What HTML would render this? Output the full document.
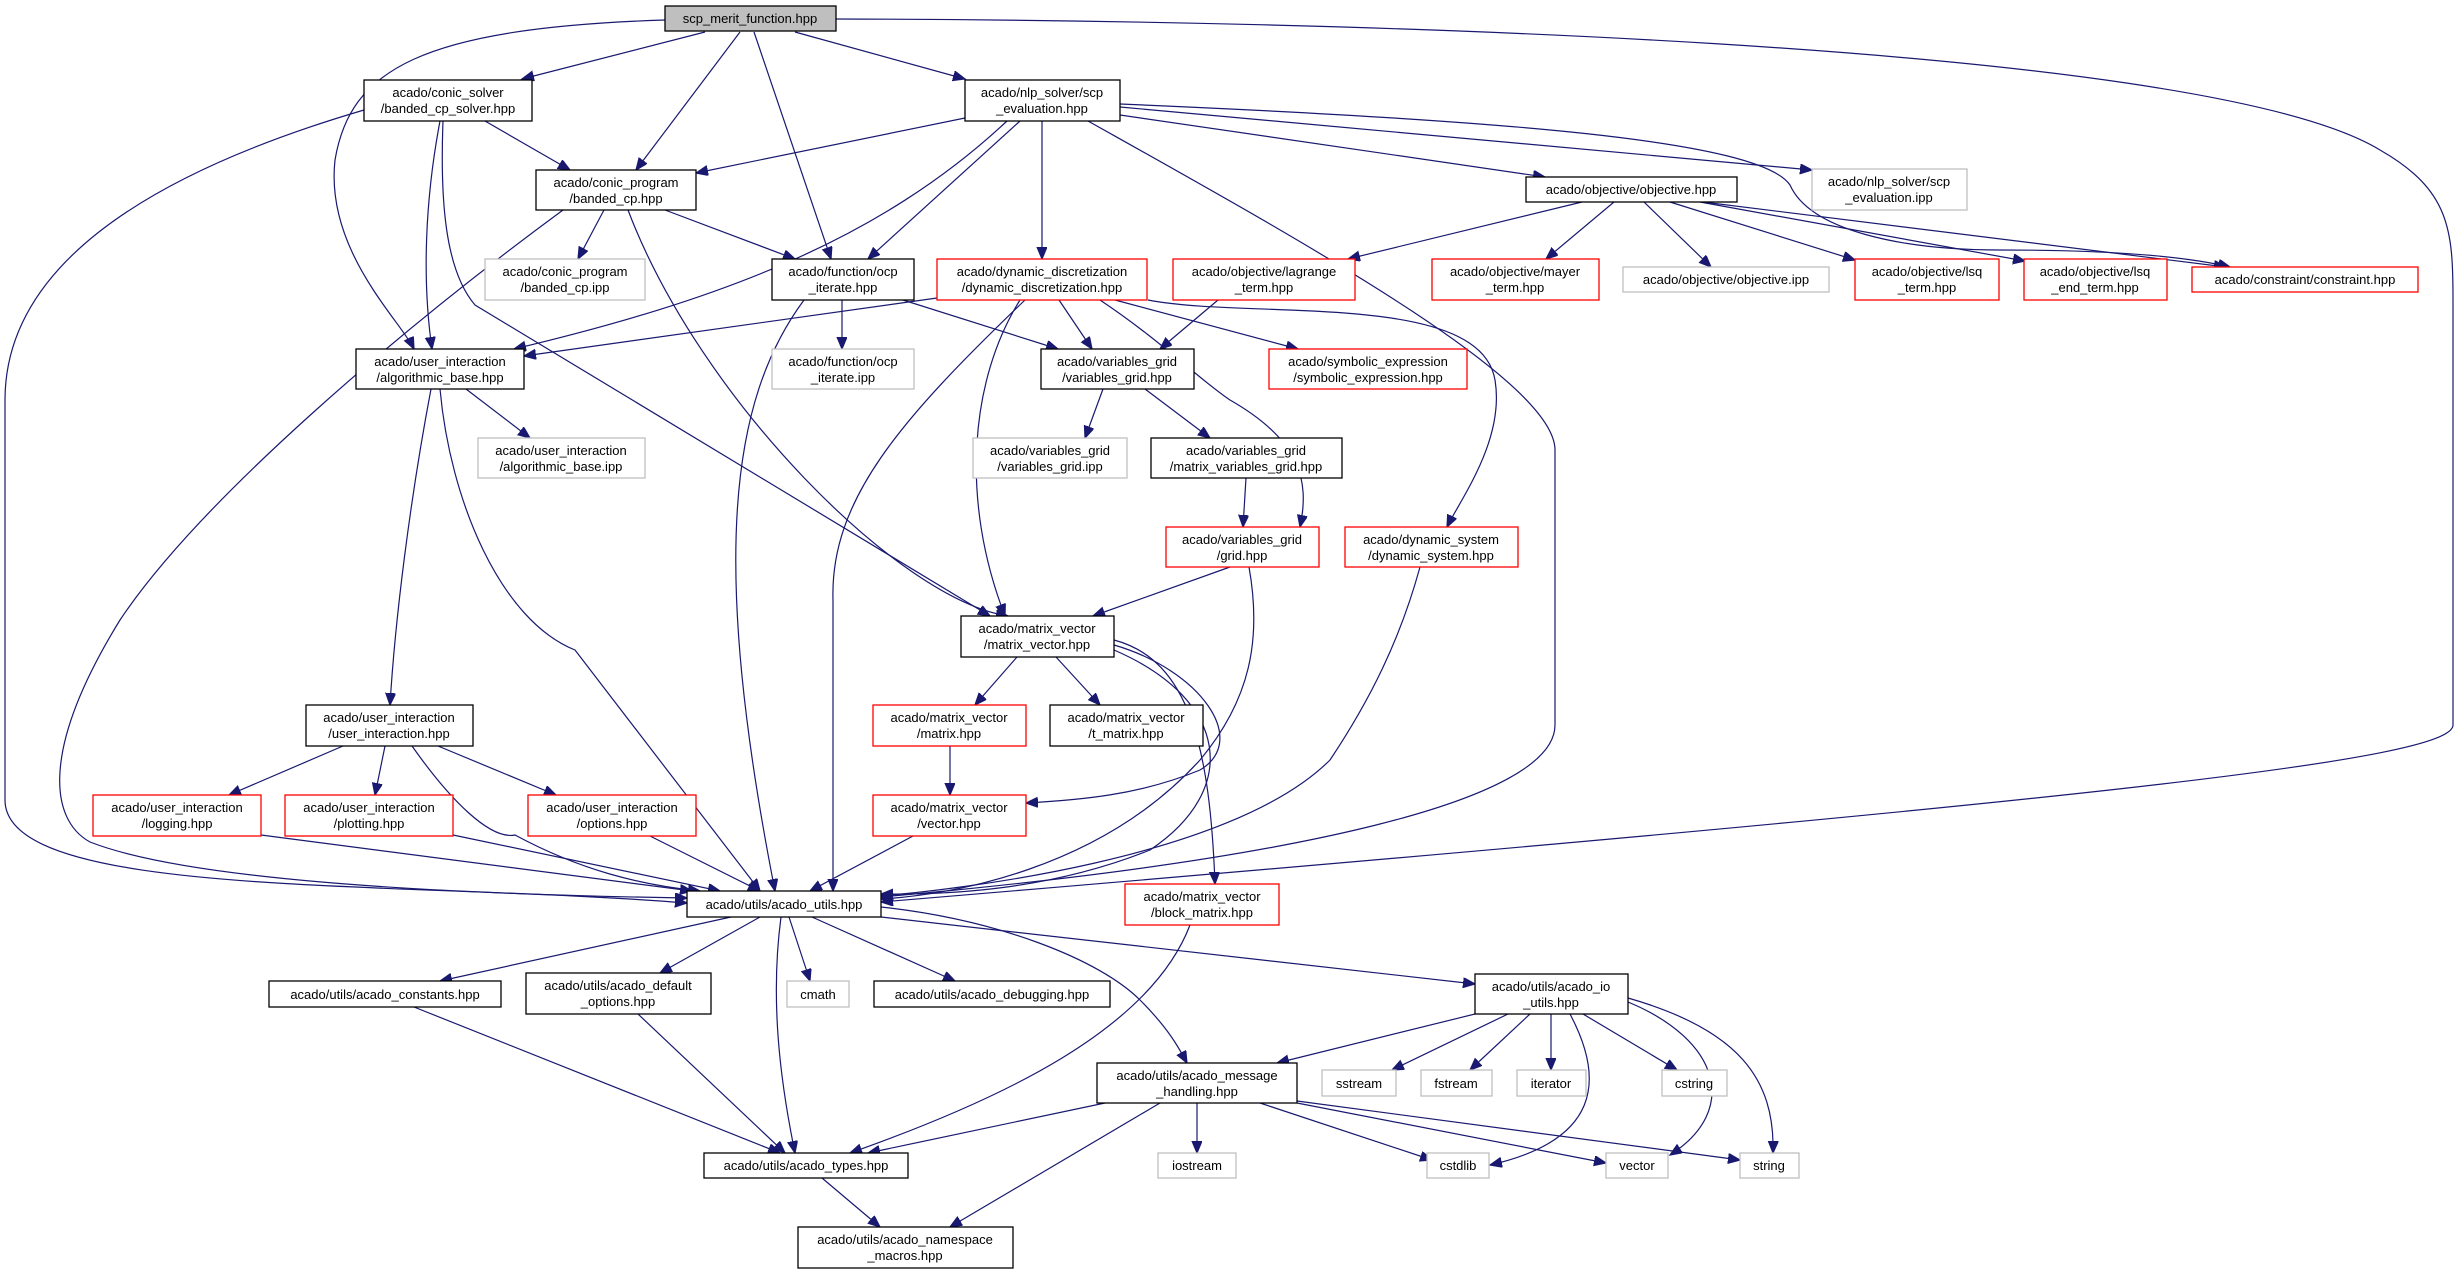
<!DOCTYPE html>
<html><head><meta charset="utf-8"><style>
html,body{margin:0;padding:0;background:#fff;}
svg{display:block;}
text{font-family:"Liberation Sans",sans-serif;font-size:13px;fill:#000;text-anchor:middle;}
.n{fill:#fff;stroke:#000;stroke-width:1.3;}
.r{fill:#fff;stroke:#ff0000;stroke-width:1.3;}
.g{fill:#fff;stroke:#bfbfbf;stroke-width:1.3;}
path{fill:none;stroke:#191970;stroke-width:1.2;}
</style></head><body>
<svg width="2457" height="1273" viewBox="0 0 2457 1273" xmlns="http://www.w3.org/2000/svg">
<defs><marker id="a" markerUnits="userSpaceOnUse" markerWidth="14" markerHeight="12" refX="12" refY="5" orient="auto"><path d="M0,0 L12,5 L0,10 Z" style="fill:#191970;stroke:#191970"/></marker></defs>
<g marker-end="url(#a)">
<path d="M705,32 L522,79"/>
<path d="M740,32 L636,170"/>
<path d="M754,32 L831,259"/>
<path d="M795,32 L965,79"/>
<path d="M665,20 C420,28 350,70 335,160 C325,250 400,320 414,349"/>
<path d="M836,19 C1300,20 2200,40 2380,150 C2450,190 2453,230 2453,300 L2453,725 C2453,760 2100,800 881,902"/>
<path d="M364,110 C160,170 5,260 5,400 L5,800 C5,900 400,880 687,903"/>
<path d="M440,121 C425,200 422,280 432,349"/>
<path d="M485,121 L570,170"/>
<path d="M443,121 C440,200 445,270 475,305 L990,616"/>
<path d="M965,118 L696,173"/>
<path d="M1007,121 C880,240 720,300 514,349"/>
<path d="M1020,121 L868,259"/>
<path d="M1042,121 L1042,259"/>
<path d="M1120,115 L1545,177"/>
<path d="M1120,107 L1812,170"/>
<path d="M1120,104 C1500,120 1760,140 1790,185 C1810,230 1900,250 2000,250 C2100,250 2180,255 2230,267"/>
<path d="M1088,121 C1300,240 1555,380 1555,450 L1555,725 C1555,800 1300,860 881,897"/>
<path d="M604,210 L578,259"/>
<path d="M665,210 L795,259"/>
<path d="M628,210 C700,400 900,600 1008,616"/>
<path d="M563,210 C400,330 200,500 120,620 C40,750 50,820 90,842 C200,885 500,895 687,898"/>
<path d="M842,300 L842,349"/>
<path d="M903,300 L1058,349"/>
<path d="M804,300 C730,400 710,560 775,891"/>
<path d="M937,298 L524,356"/>
<path d="M1059,300 L1092,349"/>
<path d="M1115,300 L1298,349"/>
<path d="M1100,300 C1160,340 1200,380 1230,400 C1300,440 1310,480 1300,527"/>
<path d="M1148,300 C1250,320 1480,290 1495,380 C1505,440 1460,500 1447,527"/>
<path d="M1020,300 C970,380 960,500 1005,616"/>
<path d="M1025,300 C900,420 830,500 833,600 L833,891"/>
<path d="M1218,300 L1160,349"/>
<path d="M1582,202 L1348,259"/>
<path d="M1614,202 L1546,259"/>
<path d="M1644,202 L1711,267"/>
<path d="M1670,202 L1855,260"/>
<path d="M1700,202 L2025,261"/>
<path d="M1703,202 L2226,267"/>
<path d="M1103,389 L1085,438"/>
<path d="M1145,389 L1210,438"/>
<path d="M1246,478 L1243,527"/>
<path d="M1230,567 L1093,616"/>
<path d="M1249,567 C1262,640 1250,700 1200,760 C1100,870 950,895 881,899"/>
<path d="M1420,567 C1400,640 1370,700 1330,760 C1230,860 950,890 881,896"/>
<path d="M466,389 L530,438"/>
<path d="M431,389 C410,500 395,620 390,705"/>
<path d="M440,389 C450,500 500,620 575,650 L760,891"/>
<path d="M1017,657 L975,705"/>
<path d="M1056,657 L1100,705"/>
<path d="M1114,645 C1200,670 1250,740 1200,770 C1140,795 1080,800 1026,803"/>
<path d="M1114,640 C1190,660 1210,750 1215,884"/>
<path d="M1114,650 C1230,700 1240,790 1150,850 C1050,890 950,895 881,894"/>
<path d="M950,746 L950,795"/>
<path d="M913,836 L810,891"/>
<path d="M1190,925 C1150,1030 1000,1100 850,1153"/>
<path d="M343,746 L229,795"/>
<path d="M385,746 L375,795"/>
<path d="M438,746 L556,795"/>
<path d="M412,746 C450,800 490,840 515,835 C580,870 640,885 700,891"/>
<path d="M261,835 L692,891"/>
<path d="M453,835 L720,891"/>
<path d="M650,836 L760,891"/>
<path d="M731,917 L440,981"/>
<path d="M760,917 L660,973"/>
<path d="M789,917 L810,981"/>
<path d="M812,917 L955,981"/>
<path d="M781,917 C770,1000 780,1080 795,1153"/>
<path d="M881,917 L1475,984"/>
<path d="M881,907 C1000,920 1100,960 1140,1000 C1170,1030 1180,1050 1187,1063"/>
<path d="M414,1007 L780,1153"/>
<path d="M638,1014 L785,1153"/>
<path d="M822,1178 L880,1227"/>
<path d="M1105,1103 L868,1153"/>
<path d="M1160,1103 L950,1227"/>
<path d="M1197,1103 L1197,1153"/>
<path d="M1260,1103 L1432,1160"/>
<path d="M1297,1103 L1606,1163"/>
<path d="M1297,1101 L1740,1160"/>
<path d="M1475,1014 L1277,1063"/>
<path d="M1508,1014 L1392,1070"/>
<path d="M1530,1014 L1470,1070"/>
<path d="M1551,1014 L1551,1070"/>
<path d="M1583,1014 L1677,1070"/>
<path d="M1570,1014 C1605,1080 1600,1140 1490,1165"/>
<path d="M1628,1002 C1720,1040 1740,1110 1670,1155"/>
<path d="M1628,998 C1740,1030 1775,1080 1773,1153"/>
</g>
<rect x="665" y="6" width="171" height="25" fill="#bfbfbf" stroke="#000" stroke-width="1.3"/><text x="750" y="23">scp_merit_function.hpp</text>
<rect class="n" x="364" y="80" width="168" height="41"/><text x="448" y="97">acado/conic_solver</text><text x="448" y="113">/banded_cp_solver.hpp</text>
<rect class="n" x="965" y="80" width="155" height="41"/><text x="1042" y="97">acado/nlp_solver/scp</text><text x="1042" y="113">_evaluation.hpp</text>
<rect class="n" x="536" y="170" width="160" height="40"/><text x="616" y="187">acado/conic_program</text><text x="616" y="203">/banded_cp.hpp</text>
<rect class="n" x="1526" y="177" width="211" height="25"/><text x="1631" y="194">acado/objective/objective.hpp</text>
<rect class="g" x="1812" y="169" width="155" height="41"/><text x="1889" y="186">acado/nlp_solver/scp</text><text x="1889" y="202">_evaluation.ipp</text>
<rect class="g" x="485" y="259" width="160" height="41"/><text x="565" y="276">acado/conic_program</text><text x="565" y="292">/banded_cp.ipp</text>
<rect class="n" x="772" y="259" width="142" height="41"/><text x="843" y="276">acado/function/ocp</text><text x="843" y="292">_iterate.hpp</text>
<rect class="r" x="937" y="259" width="210" height="41"/><text x="1042" y="276">acado/dynamic_discretization</text><text x="1042" y="292">/dynamic_discretization.hpp</text>
<rect class="r" x="1173" y="259" width="182" height="41"/><text x="1264" y="276">acado/objective/lagrange</text><text x="1264" y="292">_term.hpp</text>
<rect class="r" x="1432" y="259" width="167" height="41"/><text x="1515" y="276">acado/objective/mayer</text><text x="1515" y="292">_term.hpp</text>
<rect class="g" x="1623" y="267" width="206" height="25"/><text x="1726" y="284">acado/objective/objective.ipp</text>
<rect class="r" x="1855" y="259" width="144" height="41"/><text x="1927" y="276">acado/objective/lsq</text><text x="1927" y="292">_term.hpp</text>
<rect class="r" x="2024" y="259" width="143" height="41"/><text x="2095" y="276">acado/objective/lsq</text><text x="2095" y="292">_end_term.hpp</text>
<rect class="r" x="2192" y="267" width="226" height="25"/><text x="2305" y="284">acado/constraint/constraint.hpp</text>
<rect class="n" x="356" y="349" width="168" height="40"/><text x="440" y="366">acado/user_interaction</text><text x="440" y="382">/algorithmic_base.hpp</text>
<rect class="g" x="772" y="349" width="142" height="40"/><text x="843" y="366">acado/function/ocp</text><text x="843" y="382">_iterate.ipp</text>
<rect class="n" x="1041" y="349" width="153" height="40"/><text x="1117" y="366">acado/variables_grid</text><text x="1117" y="382">/variables_grid.hpp</text>
<rect class="r" x="1269" y="349" width="198" height="40"/><text x="1368" y="366">acado/symbolic_expression</text><text x="1368" y="382">/symbolic_expression.hpp</text>
<rect class="g" x="478" y="438" width="167" height="40"/><text x="561" y="455">acado/user_interaction</text><text x="561" y="471">/algorithmic_base.ipp</text>
<rect class="g" x="973" y="438" width="154" height="40"/><text x="1050" y="455">acado/variables_grid</text><text x="1050" y="471">/variables_grid.ipp</text>
<rect class="n" x="1151" y="438" width="191" height="40"/><text x="1246" y="455">acado/variables_grid</text><text x="1246" y="471">/matrix_variables_grid.hpp</text>
<rect class="r" x="1166" y="527" width="153" height="40"/><text x="1242" y="544">acado/variables_grid</text><text x="1242" y="560">/grid.hpp</text>
<rect class="r" x="1345" y="527" width="173" height="40"/><text x="1431" y="544">acado/dynamic_system</text><text x="1431" y="560">/dynamic_system.hpp</text>
<rect class="n" x="961" y="616" width="153" height="41"/><text x="1037" y="633">acado/matrix_vector</text><text x="1037" y="649">/matrix_vector.hpp</text>
<rect class="n" x="306" y="705" width="167" height="41"/><text x="389" y="722">acado/user_interaction</text><text x="389" y="738">/user_interaction.hpp</text>
<rect class="r" x="873" y="705" width="153" height="41"/><text x="949" y="722">acado/matrix_vector</text><text x="949" y="738">/matrix.hpp</text>
<rect class="n" x="1050" y="705" width="153" height="41"/><text x="1126" y="722">acado/matrix_vector</text><text x="1126" y="738">/t_matrix.hpp</text>
<rect class="r" x="93" y="795" width="168" height="41"/><text x="177" y="812">acado/user_interaction</text><text x="177" y="828">/logging.hpp</text>
<rect class="r" x="285" y="795" width="168" height="41"/><text x="369" y="812">acado/user_interaction</text><text x="369" y="828">/plotting.hpp</text>
<rect class="r" x="528" y="795" width="168" height="41"/><text x="612" y="812">acado/user_interaction</text><text x="612" y="828">/options.hpp</text>
<rect class="r" x="873" y="795" width="153" height="41"/><text x="949" y="812">acado/matrix_vector</text><text x="949" y="828">/vector.hpp</text>
<rect class="n" x="687" y="891" width="194" height="26"/><text x="784" y="909">acado/utils/acado_utils.hpp</text>
<rect class="r" x="1125" y="884" width="154" height="41"/><text x="1202" y="901">acado/matrix_vector</text><text x="1202" y="917">/block_matrix.hpp</text>
<rect class="n" x="269" y="981" width="232" height="26"/><text x="385" y="999">acado/utils/acado_constants.hpp</text>
<rect class="n" x="526" y="973" width="185" height="41"/><text x="618" y="990">acado/utils/acado_default</text><text x="618" y="1006">_options.hpp</text>
<rect class="g" x="787" y="981" width="62" height="26"/><text x="818" y="999">cmath</text>
<rect class="n" x="874" y="981" width="236" height="26"/><text x="992" y="999">acado/utils/acado_debugging.hpp</text>
<rect class="n" x="1475" y="974" width="153" height="40"/><text x="1551" y="991">acado/utils/acado_io</text><text x="1551" y="1007">_utils.hpp</text>
<rect class="n" x="1097" y="1063" width="200" height="40"/><text x="1197" y="1080">acado/utils/acado_message</text><text x="1197" y="1096">_handling.hpp</text>
<rect class="g" x="1322" y="1070" width="74" height="26"/><text x="1359" y="1088">sstream</text>
<rect class="g" x="1421" y="1070" width="71" height="26"/><text x="1456" y="1088">fstream</text>
<rect class="g" x="1517" y="1070" width="69" height="26"/><text x="1551" y="1088">iterator</text>
<rect class="g" x="1662" y="1070" width="65" height="26"/><text x="1694" y="1088">cstring</text>
<rect class="n" x="704" y="1153" width="204" height="25"/><text x="806" y="1170">acado/utils/acado_types.hpp</text>
<rect class="g" x="1158" y="1153" width="78" height="25"/><text x="1197" y="1170">iostream</text>
<rect class="g" x="1427" y="1153" width="62" height="25"/><text x="1458" y="1170">cstdlib</text>
<rect class="g" x="1606" y="1153" width="62" height="25"/><text x="1637" y="1170">vector</text>
<rect class="g" x="1740" y="1153" width="59" height="25"/><text x="1769" y="1170">string</text>
<rect class="n" x="798" y="1227" width="215" height="41"/><text x="905" y="1244">acado/utils/acado_namespace</text><text x="905" y="1260">_macros.hpp</text>
</svg>
</body></html>
